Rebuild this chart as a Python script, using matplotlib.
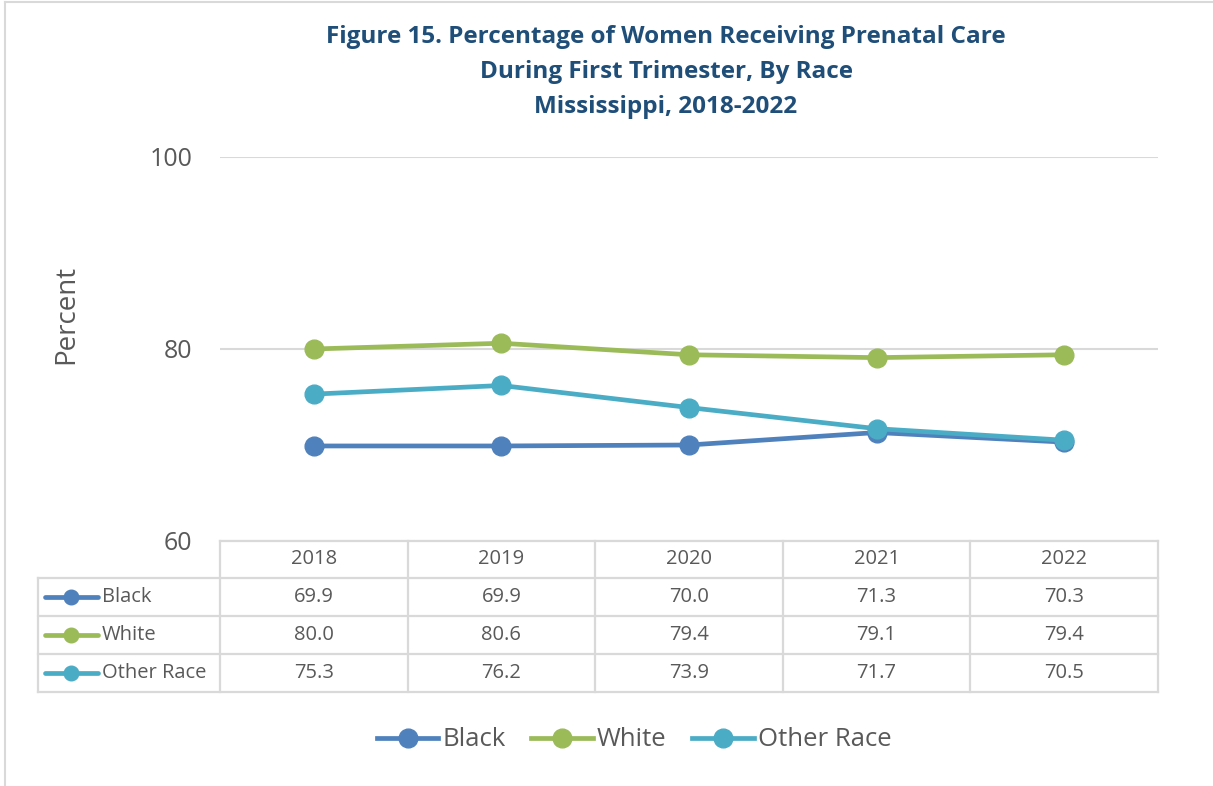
import matplotlib
matplotlib.use("Agg")
import matplotlib.pyplot as plt
from matplotlib.lines import Line2D

years = ["2018", "2019", "2020", "2021", "2022"]
series_names = ["Black", "White", "Other Race"]
black = [69.9, 69.9, 70.0, 71.3, 70.3]
white = [80.0, 80.6, 79.4, 79.1, 79.4]
other = [75.3, 76.2, 73.9, 71.7, 70.5]
yticks = [60, 80, 100]
colors = ["#4F81BD", "#9BBB59", "#4BACC6"]
values = [black, white, other]

W, H = 1213, 786
fig = plt.figure(figsize=(W / 100, H / 100), dpi=100)
plt.rcParams['font.family'] = ['Open Sans', 'DejaVu Sans']
txt = "#595959"
grid = "#D9D9D9"

def fx(px):
    return px / W

def fy(py):
    return 1 - py / H

# Plot area
L, R, T, B = 220, 1158, 157, 541
ax = fig.add_axes([fx(L), fy(B), fx(R - L), (B - T) / H])
xs = list(range(len(years)))
for name, vals, c in zip(series_names, values, colors):
    ax.plot(xs, vals, color=c, lw=3.4, marker='o', ms=13.5, solid_capstyle='round', label=name, zorder=3)
ax.set_xlim(-0.5, len(years) - 0.5)
ax.set_ylim(60, 100)
ax.set_yticks(yticks)
ax.set_xticks([])
ax.tick_params(axis='y', length=0, labelsize=18, labelcolor=txt, pad=20)
for s in ax.spines.values():
    s.set_visible(False)
ax.grid(axis='y', color=grid, lw=1.5, zorder=0)
ax.set_axisbelow(True)
ax.set_ylabel("Percent", fontsize=20, color=txt)
ax.yaxis.set_label_coords((80 - L) / (R - L), 0.59)

# Overlay axes in pixel coordinates for the data table
ov = fig.add_axes([0, 0, 1, 1])
ov.set_xlim(0, W)
ov.set_ylim(H, 0)
ov.axis('off')
ov.patch.set_alpha(0)

# figure border (left and top)
ov.plot([5, 5], [2, H], color=grid, lw=1.5)
ov.plot([5, W], [2, 2], color=grid, lw=1.5)

col_w = (R - L) / len(years)
row_tops = [541, 578, 616, 654, 692]
lw_t = 1.6
ov.plot([L, R], [row_tops[0], row_tops[0]], color=grid, lw=lw_t)
for yy in row_tops[1:]:
    ov.plot([38, R], [yy, yy], color=grid, lw=lw_t)
ov.plot([38, 38], [row_tops[1], row_tops[-1]], color=grid, lw=lw_t)
for i in range(len(years) + 1):
    xx = L + i * col_w
    ov.plot([xx, xx], [row_tops[0], row_tops[-1]], color=grid, lw=lw_t)

fs_t = 14.5
for i, yr in enumerate(years):
    cx = L + (i + 0.5) * col_w
    ov.text(cx, (row_tops[0] + row_tops[1]) / 2, yr, ha='center', va='center', fontsize=fs_t, color=txt)
for r, (name, vals, c) in enumerate(zip(series_names, values, colors)):
    cy = (row_tops[r + 1] + row_tops[r + 2]) / 2
    ov.plot([45, 98], [cy, cy], color=c, lw=3.4, solid_capstyle='round')
    ov.plot([71], [cy], color=c, marker='o', ms=10.5)
    ov.text(102, cy, name, ha='left', va='center', fontsize=fs_t, color=txt)
    for i, v in enumerate(vals):
        cx = L + (i + 0.5) * col_w
        ov.text(cx, cy, f"{v:.1f}", ha='center', va='center', fontsize=fs_t, color=txt)

# Title
title_lines = ["Figure 15. Percentage of Women Receiving Prenatal Care",
               "During First Trimester, By Race",
               "Mississippi, 2018-2022"]
for i, t in enumerate(title_lines):
    ov.text(666, 37 + i * 35, t, ha='center', va='center', fontsize=17.5, fontweight='bold', color="#1F4E79")

# Legend
handles = [Line2D([0], [0], color=c, lw=3.4, marker='o', ms=13.5) for c in colors]
fig.legend(handles, series_names, loc='center', bbox_to_anchor=(fx(634), fy(740)), ncol=3,
           frameon=False, fontsize=18.5, handlelength=2.4, handletextpad=0.15, columnspacing=1.0,
           labelcolor=txt)

fig.savefig("out.png", dpi=100)
